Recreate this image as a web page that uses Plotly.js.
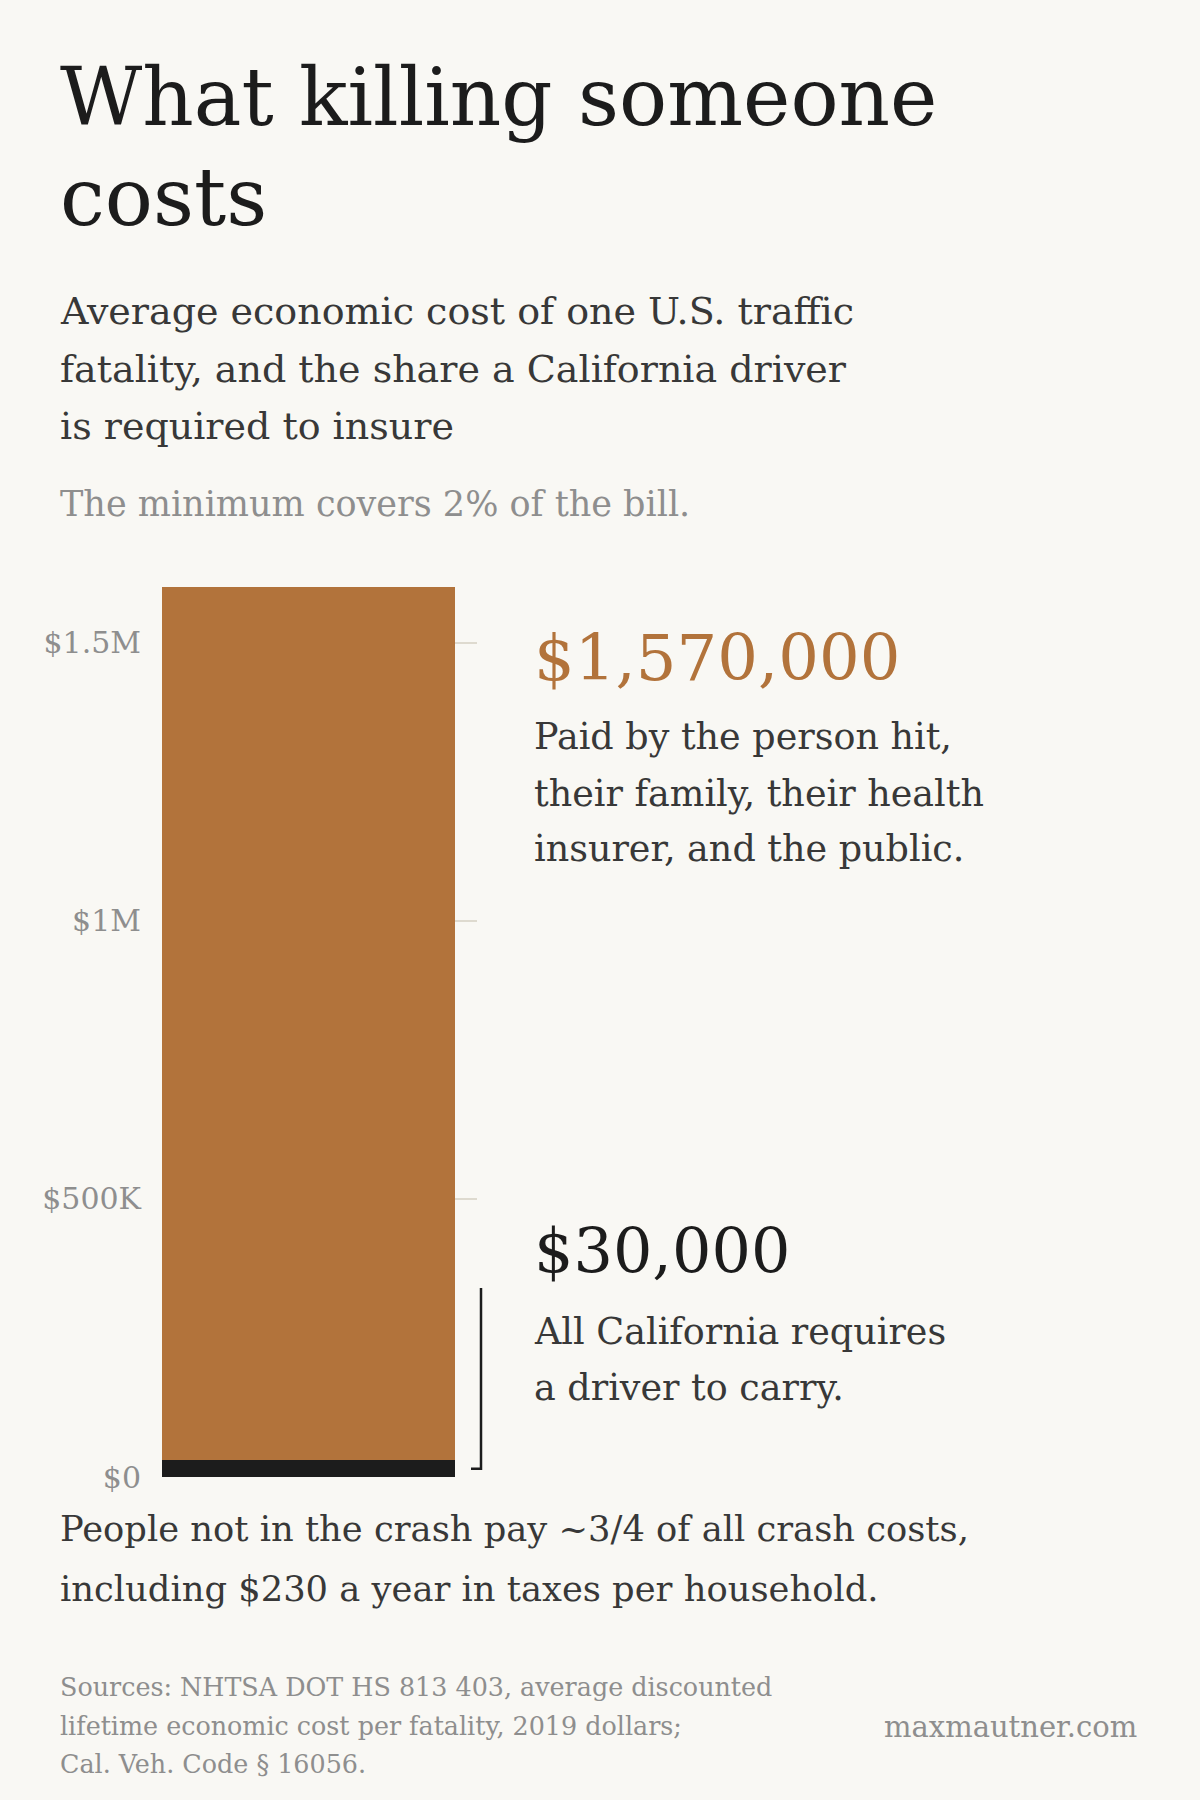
<!DOCTYPE html>
<html>
<head>
<meta charset="utf-8">
<script src="https://cdn.plot.ly/plotly-3.0.1.min.js"></script>
<style>
  html, body { margin: 0; padding: 0; background: #f9f8f4; }
  #chart { width: 1200px; height: 1800px; }
</style>
</head>
<body>
<div id="chart"></div>
<script>
// ---- data ----
const segments = ['Required minimum insurance', 'Everyone else'];
const segmentValues = [30000, 1570000];
const tickValues = [0, 500000, 1000000, 1500000];
const tickLabels = ['$0', '$500K', '$1M', '$1.5M'];
const bracketTop = 340000;

// ---- look ----
const FONT = 'DejaVu Serif';
const BG = '#f9f8f4';
const ORANGE = '#b2733b';
const INK = '#1c1c1c';
const BODY = '#383838';
const GREY = '#8e8e8e';

// plot area in page pixels
const PL = 162, PR = 477, PT = 587, PB = 1477;
const px = x => (x - PL) / (PR - PL);
const py = y => (PB - y) / (PB - PT);

const money = v => '$' + v.toLocaleString('en-US');

// one annotation per text line, placed by its baseline
const line = (text, x, baseline, size, color, anchor) => ({
  text: text,
  xref: 'paper', yref: 'paper',
  x: px(x), y: py(baseline - 0.36 * size),
  xanchor: anchor || 'left', yanchor: 'middle',
  showarrow: false,
  font: { family: FONT, size: size, color: color }
});

const LX = 58, RX = 532;

const annotations = [
  line('What killing someone', LX, 126, 80, INK),
  line('costs', LX, 226, 80, INK),
  line('Average economic cost of one U.S. traffic', LX, 325, 38, BODY),
  line('fatality, and the share a California driver', LX, 383, 38, BODY),
  line('is required to insure', LX, 440, 38, BODY),
  line('The minimum covers 2% of the bill.', LX, 517, 35, GREY),

  line(money(segmentValues[1]), RX, 681, 64, ORANGE),
  line('Paid by the person hit,', RX, 750, 36.5, BODY),
  line('their family, their health', RX, 807, 36.5, BODY),
  line('insurer, and the public.', RX, 862, 36.5, BODY),

  line(money(segmentValues[0]), RX, 1273, 62, INK),
  line('All California requires', RX, 1345, 36.5, BODY),
  line('a driver to carry.', RX, 1401, 36.5, BODY),

  line('People not in the crash pay ~3/4 of all crash costs,', LX, 1541, 35.3, BODY),
  line('including $230 a year in taxes per household.', LX, 1601, 35.3, BODY),

  line('Sources: NHTSA DOT HS 813 403, average discounted', LX, 1696, 25.4, GREY),
  line('lifetime economic cost per fatality, 2019 dollars;', LX, 1735, 25.4, GREY),
  line('Cal. Veh. Code § 16056.', LX, 1773, 25.4, GREY),
  line('maxmautner.com', 1139, 1737, 29, GREY, 'right')
];

const traces = [
  {
    type: 'bar',
    name: segments[0],
    x: [0], y: [segmentValues[0]],
    width: 0.93,
    marker: { color: INK, line: { width: 0 } },
    hoverinfo: 'skip'
  },
  {
    type: 'bar',
    name: segments[1],
    x: [0], y: [segmentValues[1]],
    width: 0.93,
    marker: { color: ORANGE, line: { width: 0 } },
    hoverinfo: 'skip'
  }
];

// bracket pointing at the insured sliver
const hookY = segmentValues[0] / 2;
const shapes = [{
  type: 'path',
  xref: 'paper', yref: 'y',
  path: `M ${px(471)} ${hookY} L ${px(481)} ${hookY} L ${px(481)} ${bracketTop}`,
  line: { color: INK, width: 2.5 }
}];

const layout = {
  width: 1200,
  height: 1800,
  margin: { l: PL, r: 1200 - PR, t: PT, b: 1800 - PB, pad: 0 },
  paper_bgcolor: BG,
  plot_bgcolor: BG,
  barmode: 'stack',
  bargap: 0,
  showlegend: false,
  xaxis: {
    range: [-0.465, 0.535],
    showgrid: false, zeroline: false, showticklabels: false,
    showline: false, fixedrange: true
  },
  yaxis: {
    range: [0, 1600000],
    tickvals: tickValues,
    ticktext: tickLabels,
    showgrid: true,
    gridcolor: '#dedacf',
    gridwidth: 2,
    zeroline: false,
    showline: false,
    ticks: '',
    ticklabelstandoff: 20,
    tickfont: { family: FONT, size: 30, color: GREY },
    fixedrange: true
  },
  shapes: shapes,
  annotations: annotations
};

Plotly.newPlot('chart', traces, layout, { staticPlot: true, displayModeBar: false });
</script>
</body>
</html>
